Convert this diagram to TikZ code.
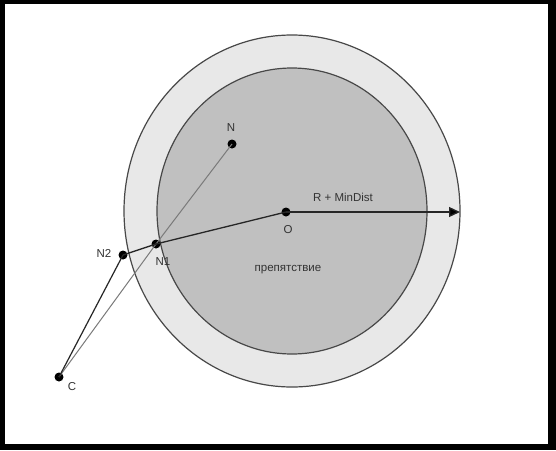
\documentclass[tikz,border=0pt]{standalone}
\usepackage{fontspec}
\setmainfont{Liberation Sans}
\usetikzlibrary{arrows.meta}
\definecolor{ringgray}{HTML}{E8E8E8}
\definecolor{obstgray}{HTML}{C0C0C0}
\definecolor{edgegray}{HTML}{484848}
\definecolor{thingray}{HTML}{7A7A7A}
\definecolor{textgray}{HTML}{333333}
\begin{document}
\begin{tikzpicture}[x=1pt,y=-1pt,
    dot/.style={circle,fill=black,inner sep=0pt,minimum size=9pt},
    lbl/.style={font=\fontsize{11.5}{13}\selectfont,text=textgray,inner sep=0pt}]
    \useasboundingbox (0,0) rectangle (556,450);
    % frame
    \fill[black] (0,0) rectangle (556,450);
    \fill[white] (5,4) rectangle (548,444);
    % zones
    \draw[fill=ringgray,draw=edgegray,line width=1.2pt] (292,211) ellipse [x radius=168,y radius=176];
    \draw[fill=obstgray,draw=edgegray,line width=1.2pt] (292,211) ellipse [x radius=135,y radius=143];
    % points
    \node[dot] (O) at (286,212) {};
    \node[dot] (N) at (232,144) {};
    \node[dot] (N1) at (156,244) {};
    \node[dot] (N2) at (123,255) {};
    \node[dot] (C) at (59,377) {};
    \coordinate (Rtip) at (460,212);
    % lines
    \draw[thingray,line width=1pt] (N1.center) -- (N.center);
    \draw[thingray,line width=1pt] (N1.center) -- (C.center);
    \draw[black!85,line width=1.3pt] (O.center) -- (N1.center) -- (N2.center);
    \draw[black!85,line width=1.2pt] (N2.center) -- (C.center);
    \draw[black!85,line width=1.3pt,-{Triangle[length=11pt,width=10pt,fill=black]}] (O.center) -- (Rtip);
    % labels
    \node[lbl] (lN) at (231,128) {N};
    \node[lbl] (lN1) at (163,262) {N1};
    \node[lbl] (lN2) at (104,253) {N2};
    \node[lbl] (lO) at (288,230) {O};
    \node[lbl] (lC) at (72,387) {C};
    \node[lbl] (lR) at (343,197) {R + MinDist};
    \node[lbl] (lobst) at (288,270) {препятствие};
\end{tikzpicture}
\end{document}
